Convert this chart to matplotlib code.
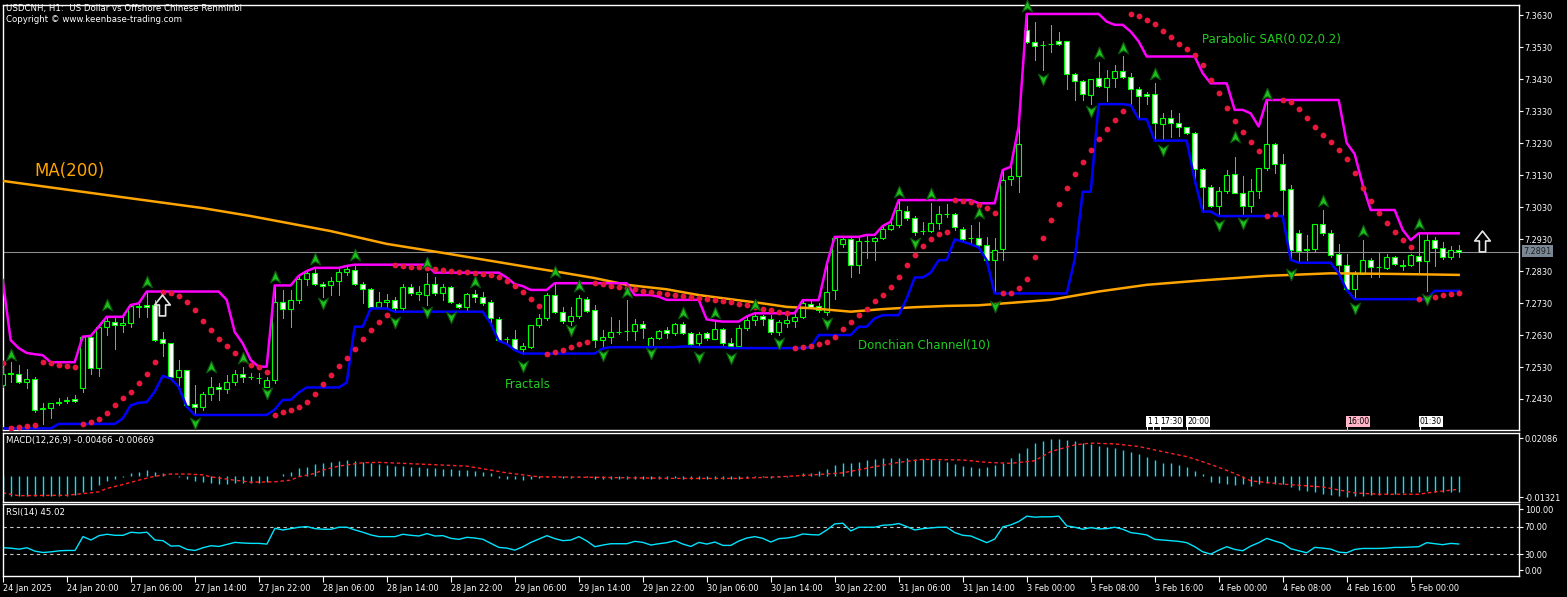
import numpy as np
import pandas as pd
import matplotlib
matplotlib.use("Agg")
import matplotlib.pyplot as plt
from matplotlib.path import Path

# ---------------- data (USDCNH H1) ----------------
opens = [7.2474, 7.2510, 7.2507, 7.2482, 7.2494, 7.2400, 7.2401, 7.2416, 7.2425, 7.2429,
         7.2463, 7.2623, 7.2526, 7.2654, 7.2670, 7.2661, 7.2669, 7.2717, 7.2724, 7.2724,
         7.2616, 7.2604, 7.2500, 7.2521, 7.2414, 7.2404, 7.2445, 7.2468, 7.2460, 7.2482,
         7.2507, 7.2500, 7.2496, 7.2468, 7.2489, 7.2734, 7.2710, 7.2740, 7.2804, 7.2825,
         7.2789, 7.2787, 7.2798, 7.2826, 7.2833, 7.2788, 7.2773, 7.2718, 7.2732, 7.2741,
         7.2715, 7.2779, 7.2757, 7.2755, 7.2791, 7.2762, 7.2781, 7.2726, 7.2718, 7.2757,
         7.2748, 7.2734, 7.2679, 7.2617, 7.2616, 7.2585, 7.2591, 7.2660, 7.2682, 7.2755,
         7.2703, 7.2674, 7.2688, 7.2742, 7.2709, 7.2613, 7.2623, 7.2641, 7.2644, 7.2644,
         7.2664, 7.2597, 7.2620, 7.2646, 7.2636, 7.2664, 7.2636, 7.2604, 7.2636, 7.2618,
         7.2648, 7.2604, 7.2597, 7.2651, 7.2677, 7.2688, 7.2679, 7.2638, 7.2669, 7.2675,
         7.2687, 7.2727, 7.2720, 7.2703, 7.2771, 7.2914, 7.2929, 7.2849, 7.2925, 7.2923,
         7.2932, 7.2963, 7.2974, 7.3019, 7.2995, 7.2955, 7.2956, 7.2981, 7.3007, 7.3007,
         7.2963, 7.2932, 7.2934, 7.2911, 7.2866, 7.2898, 7.3117, 7.3127, 7.3584, 7.3545,
         7.3536, 7.3541, 7.3548, 7.3548, 7.3446, 7.3425, 7.3381, 7.3433, 7.3407, 7.3433,
         7.3456, 7.3436, 7.3398, 7.3383, 7.3383, 7.3290, 7.3308, 7.3294, 7.3280, 7.3261,
         7.3149, 7.3092, 7.3035, 7.3079, 7.3133, 7.3075, 7.3032, 7.3079, 7.3152, 7.3227,
         7.3165, 7.3086, 7.2950, 7.2898, 7.2898, 7.2977, 7.2948, 7.2884, 7.2849, 7.2773,
         7.2821, 7.2865, 7.2842, 7.2839, 7.2873, 7.2848, 7.2849, 7.2877, 7.2860, 7.2927,
         7.2901, 7.2873, 7.2896]
highs = [7.2530, 7.2545, 7.2536, 7.2524, 7.2500, 7.2416, 7.2418, 7.2432, 7.2435, 7.2442,
         7.2625, 7.2627, 7.2656, 7.2687, 7.2682, 7.2687, 7.2724, 7.2729, 7.2766, 7.2740,
         7.2640, 7.2604, 7.2552, 7.2521, 7.2474, 7.2453, 7.2500, 7.2479, 7.2505, 7.2521,
         7.2531, 7.2512, 7.2512, 7.2500, 7.2785, 7.2771, 7.2771, 7.2815, 7.2830, 7.2840,
         7.2797, 7.2810, 7.2835, 7.2846, 7.2850, 7.2797, 7.2776, 7.2765, 7.2757, 7.2750,
         7.2789, 7.2791, 7.2783, 7.2825, 7.2810, 7.2789, 7.2783, 7.2729, 7.2760, 7.2771,
         7.2765, 7.2739, 7.2687, 7.2625, 7.2645, 7.2606, 7.2661, 7.2695, 7.2761, 7.2792,
         7.2717, 7.2719, 7.2755, 7.2750, 7.2724, 7.2646, 7.2686, 7.2677, 7.2740, 7.2679,
         7.2675, 7.2623, 7.2646, 7.2656, 7.2669, 7.2672, 7.2641, 7.2641, 7.2641, 7.2672,
         7.2651, 7.2620, 7.2662, 7.2688, 7.2698, 7.2693, 7.2693, 7.2677, 7.2688, 7.2697,
         7.2739, 7.2737, 7.2729, 7.2850, 7.2937, 7.2932, 7.2932, 7.2932, 7.2943, 7.2937,
         7.2971, 7.2984, 7.3052, 7.3033, 7.3002, 7.2984, 7.3042, 7.3033, 7.3040, 7.3012,
         7.2969, 7.2974, 7.2984, 7.2937, 7.2932, 7.3146, 7.3156, 7.3282, 7.3634, 7.3610,
         7.3548, 7.3600, 7.3579, 7.3548, 7.3449, 7.3428, 7.3430, 7.3485, 7.3459, 7.3475,
         7.3501, 7.3449, 7.3405, 7.3391, 7.3417, 7.3323, 7.3334, 7.3323, 7.3282, 7.3266,
         7.3152, 7.3099, 7.3092, 7.3146, 7.3188, 7.3126, 7.3117, 7.3152, 7.3365, 7.3231,
         7.3196, 7.3099, 7.2957, 7.2943, 7.2977, 7.3021, 7.2959, 7.2915, 7.2884, 7.2831,
         7.2927, 7.2870, 7.2886, 7.2884, 7.2877, 7.2865, 7.2884, 7.2948, 7.2946, 7.2936,
         7.2922, 7.2907, 7.2910]
lows = [7.2468, 7.2484, 7.2479, 7.2463, 7.2390, 7.2352, 7.2369, 7.2410, 7.2418, 7.2420,
        7.2453, 7.2508, 7.2502, 7.2630, 7.2585, 7.2640, 7.2656, 7.2687, 7.2687, 7.2612,
        7.2564, 7.2494, 7.2468, 7.2406, 7.2380, 7.2397, 7.2427, 7.2427, 7.2450, 7.2474,
        7.2484, 7.2491, 7.2479, 7.2466, 7.2481, 7.2682, 7.2656, 7.2729, 7.2786, 7.2786,
        7.2750, 7.2755, 7.2755, 7.2817, 7.2786, 7.2729, 7.2713, 7.2713, 7.2718, 7.2703,
        7.2703, 7.2755, 7.2739, 7.2724, 7.2755, 7.2739, 7.2729, 7.2716, 7.2703, 7.2734,
        7.2724, 7.2666, 7.2612, 7.2602, 7.2583, 7.2572, 7.2588, 7.2656, 7.2677, 7.2698,
        7.2667, 7.2662, 7.2682, 7.2703, 7.2592, 7.2592, 7.2604, 7.2633, 7.2615, 7.2615,
        7.2620, 7.2594, 7.2617, 7.2620, 7.2630, 7.2633, 7.2596, 7.2592, 7.2615, 7.2617,
        7.2599, 7.2589, 7.2592, 7.2646, 7.2662, 7.2662, 7.2633, 7.2630, 7.2656, 7.2656,
        7.2682, 7.2716, 7.2703, 7.2692, 7.2744, 7.2906, 7.2810, 7.2825, 7.2870, 7.2864,
        7.2929, 7.2958, 7.2969, 7.2990, 7.2943, 7.2946, 7.2953, 7.2963, 7.3000, 7.2958,
        7.2922, 7.2914, 7.2904, 7.2864, 7.2760, 7.2866, 7.3099, 7.3078, 7.3542, 7.3490,
        7.3459, 7.3516, 7.3537, 7.3398, 7.3365, 7.3365, 7.3352, 7.3405, 7.3363, 7.3405,
        7.3433, 7.3349, 7.3305, 7.3353, 7.3238, 7.3240, 7.3250, 7.3252, 7.3259, 7.3115,
        7.3016, 7.3030, 7.3002, 7.3073, 7.3073, 7.3002, 7.3016, 7.3058, 7.3146, 7.3136,
        7.3006, 7.2865, 7.2856, 7.2865, 7.2891, 7.2943, 7.2875, 7.2823, 7.2771, 7.2742,
        7.2821, 7.2811, 7.2813, 7.2836, 7.2849, 7.2834, 7.2846, 7.2828, 7.2768, 7.2846,
        7.2867, 7.2869, 7.2875]
closes = [7.2508, 7.2509, 7.2482, 7.2494, 7.2397, 7.2402, 7.2416, 7.2420, 7.2426, 7.2424,
          7.2623, 7.2526, 7.2654, 7.2674, 7.2661, 7.2669, 7.2721, 7.2721, 7.2717, 7.2614,
          7.2604, 7.2500, 7.2521, 7.2411, 7.2404, 7.2445, 7.2468, 7.2461, 7.2482, 7.2507,
          7.2498, 7.2500, 7.2496, 7.2489, 7.2734, 7.2710, 7.2740, 7.2804, 7.2825, 7.2791,
          7.2783, 7.2798, 7.2827, 7.2835, 7.2788, 7.2773, 7.2718, 7.2732, 7.2741, 7.2715,
          7.2779, 7.2762, 7.2763, 7.2791, 7.2762, 7.2781, 7.2732, 7.2718, 7.2757, 7.2748,
          7.2731, 7.2682, 7.2614, 7.2616, 7.2586, 7.2595, 7.2660, 7.2682, 7.2755, 7.2703,
          7.2674, 7.2688, 7.2745, 7.2706, 7.2613, 7.2623, 7.2639, 7.2641, 7.2644, 7.2664,
          7.2651, 7.2620, 7.2644, 7.2636, 7.2665, 7.2636, 7.2602, 7.2633, 7.2620, 7.2648,
          7.2604, 7.2597, 7.2651, 7.2677, 7.2690, 7.2679, 7.2638, 7.2672, 7.2677, 7.2685,
          7.2729, 7.2718, 7.2708, 7.2765, 7.2932, 7.2929, 7.2849, 7.2925, 7.2925, 7.2932,
          7.2963, 7.2974, 7.3021, 7.2995, 7.2953, 7.2955, 7.2981, 7.3007, 7.3007, 7.2967,
          7.2929, 7.2932, 7.2911, 7.2866, 7.2896, 7.3115, 7.3127, 7.3227, 7.3545, 7.3534,
          7.3538, 7.3540, 7.3539, 7.3446, 7.3425, 7.3383, 7.3430, 7.3409, 7.3433, 7.3456,
          7.3438, 7.3398, 7.3378, 7.3378, 7.3294, 7.3308, 7.3292, 7.3280, 7.3263, 7.3148,
          7.3094, 7.3035, 7.3079, 7.3131, 7.3075, 7.3032, 7.3079, 7.3152, 7.3227, 7.3165,
          7.3084, 7.2896, 7.2894, 7.2897, 7.2977, 7.2948, 7.2880, 7.2849, 7.2773, 7.2821,
          7.2865, 7.2842, 7.2842, 7.2873, 7.2852, 7.2847, 7.2880, 7.2860, 7.2927, 7.2901,
          7.2873, 7.2896, 7.2891]

# highs / lows of the 9 bars just before the visible window (Donchian look-back)
pre_highs = [7.2802, 7.2614, 7.2589, 7.2574, 7.2570, 7.2567, 7.2530, 7.2520, 7.2510]
pre_lows = [7.2400, 7.2420, 7.2390, 7.2380, 7.2360, 7.2345, 7.2338, 7.2380, 7.2420]

# SAR state on the first bar (down trend)
sar_start = 7.2541
sar_ep_start = 7.2338

# MA(200)
ma_bars = [0, 12, 25, 31, 41, 48, 55, 61, 67, 70, 74, 78, 83, 87, 91, 95, 98, 101, 106,
           110, 114, 118, 122, 131, 137, 143, 150, 158, 166, 174, 182]
ma_vals = [7.3112, 7.3071, 7.3027, 7.3002, 7.2955, 7.2915, 7.2887, 7.2862, 7.2837, 7.2825,
           7.2808, 7.2787, 7.2773, 7.2755, 7.2742, 7.2729, 7.2718, 7.2714, 7.2703,
           7.2711, 7.2717, 7.2721, 7.2723, 7.2740, 7.2766, 7.2787, 7.2801, 7.2815, 7.2823,
           7.2821, 7.2818]

# Fractals
frac_up_bars = [1, 13, 18, 26, 30, 34, 39, 44, 53, 59, 69, 72, 78, 85, 89, 94, 112, 116,
                122, 128, 137, 140, 144, 154, 158, 165, 170, 177]
frac_up_vals = [7.2568, 7.2724, 7.2797, 7.2529, 7.2557, 7.2813, 7.2868, 7.2880, 7.2855,
                7.2797, 7.2828, 7.2783, 7.2766, 7.2700, 7.2700, 7.2724, 7.3078, 7.3071,
                7.3011, 7.3660, 7.3513, 7.3527, 7.3447, 7.3250, 7.3384, 7.3050, 7.2955, 7.2977]
frac_dn_bars = [24, 33, 40, 49, 53, 56, 65, 71, 75, 81, 87, 91, 97, 103, 114, 124, 130,
                136, 145, 152, 155, 161, 169, 178]
frac_dn_vals = [7.2354, 7.2448, 7.2729, 7.2672, 7.2703, 7.2686, 7.2533, 7.2646, 7.2568,
                7.2573, 7.2562, 7.2557, 7.2604, 7.2669, 7.2919, 7.2721, 7.3430, 7.3329,
                7.3209, 7.2974, 7.2981, 7.2821, 7.2714, 7.2742]

# MACD(12,26,9)
macd_main = [-0.0104, -0.0104, -0.0104, -0.0104, -0.0104, -0.0104, -0.0104, -0.0104, -0.0101, -0.0097,
             -0.0082, -0.0070, -0.0048, -0.0028, -0.0018, -0.0006, 0.0011, 0.0019, 0.0028, 0.0019,
             0.0011, -0.0001, -0.0006, -0.0019, -0.0028, -0.0033, -0.0036, -0.0040, -0.0040, -0.0036,
             -0.0035, -0.0035, -0.0035, -0.0033, -0.0003, 0.0008, 0.0019, 0.0036, 0.0045, 0.0058,
             0.0065, 0.0069, 0.0074, 0.0077, 0.0074, 0.0067, 0.0065, 0.0058, 0.0053, 0.0048,
             0.0048, 0.0045, 0.0042, 0.0038, 0.0036, 0.0035, 0.0033, 0.0030, 0.0026, 0.0023,
             0.0019, 0.0014, -0.0011, -0.0016, -0.0019, -0.0023, -0.0016, -0.0011, -0.0008, -0.0009,
             -0.0011, -0.0011, -0.0008, -0.0009, -0.0016, -0.0018, -0.0018, -0.0018, -0.0016, -0.0016,
             -0.0016, -0.0018, -0.0018, -0.0016, -0.0014, -0.0016, -0.0019, -0.0018, -0.0018, -0.0016,
             -0.0018, -0.0019, -0.0016, -0.0013, -0.0009, -0.0009, -0.0011, -0.0009, -0.0008, -0.0004,
             0.0011, 0.0014, 0.0021, 0.0031, 0.0055, 0.0062, 0.0065, 0.0070, 0.0079, 0.0086,
             0.0089, 0.0089, 0.0089, 0.0089, 0.0086, 0.0086, 0.0082, 0.0079, 0.0070, 0.0058,
             0.0048, 0.0042, 0.0038, 0.0042, 0.0053, 0.0065, 0.0087, 0.0116, 0.0140, 0.0164,
             0.0177, 0.0186, 0.0186, 0.0180, 0.0174, 0.0164, 0.0157, 0.0150, 0.0143, 0.0138,
             0.0130, 0.0121, 0.0109, 0.0096, 0.0079, 0.0065, 0.0062, 0.0053, 0.0042, 0.0021,
             0.0008, -0.0031, -0.0036, -0.0040, -0.0048, -0.0040, -0.0050, -0.0043, -0.0036, -0.0040,
             -0.0043, -0.0057, -0.0074, -0.0079, -0.0082, -0.0091, -0.0099, -0.0104, -0.0108, -0.0103,
             -0.0101, -0.0099, -0.0098, -0.0094, -0.0091, -0.0087, -0.0085, -0.0084, -0.0080, -0.0082,
             -0.0082, -0.0082, -0.0082]
sig_bars = [0, 2, 8, 10, 12, 13, 15, 17, 19, 21, 23, 25, 26, 29, 31, 34, 36, 37, 39, 40, 42, 45,
            47, 50, 58, 61, 63, 67, 75, 84, 92, 97, 101, 105, 109, 112, 115, 120, 123, 126, 129,
            131, 134, 136, 139, 142, 145, 148, 150, 152, 154, 156, 160, 165, 169, 172, 177, 179, 182]
sig_vals = [-0.0087, -0.0101, -0.0099, -0.0091, -0.0082, -0.0065, -0.0045, -0.0023, -0.0003,
            0.0008, 0.0008, 0.0004, -0.0006, -0.0023, -0.0033, -0.0031, -0.0023, -0.0006, 0.0011,
            0.0028, 0.0048, 0.0065, 0.0067, 0.0062, 0.0048, 0.0028, 0.0014, -0.0006, -0.0009,
            -0.0014, -0.0014, -0.0006, 0.0003, 0.0014, 0.0045, 0.0067, 0.0082, 0.0079, 0.0067,
            0.0062, 0.0075, 0.0121, 0.0155, 0.0164, 0.0160, 0.0147, 0.0121, 0.0096, 0.0070,
            0.0042, 0.0011, -0.0026, -0.0043, -0.0057, -0.0087, -0.0094, -0.0094, -0.0082, -0.0069]

# RSI(14)
rsi = [39.6, 39.0, 37.6, 39.6, 34.7, 32.8, 33.7, 35.2, 35.7, 35.7,
       55.6, 50.7, 57.0, 59.0, 57.5, 57.5, 61.9, 60.9, 61.9, 50.7,
       49.8, 42.0, 42.5, 37.2, 35.7, 39.6, 42.5, 41.5, 44.4, 47.3,
       46.4, 45.9, 45.9, 44.9, 67.6, 65.2, 67.1, 69.1, 70.0, 67.1,
       66.2, 66.2, 69.1, 69.1, 65.2, 61.9, 58.0, 55.6, 55.6, 55.6,
       59.0, 57.5, 56.5, 59.9, 56.5, 57.0, 53.1, 51.7, 54.6, 53.6,
       51.7, 45.9, 40.1, 39.1, 36.2, 41.1, 47.3, 52.2, 57.0, 52.7,
       49.8, 50.7, 55.6, 49.3, 41.1, 43.5, 45.4, 45.4, 45.4, 48.8,
       47.3, 43.5, 45.4, 46.9, 49.8, 44.9, 41.5, 47.3, 44.9, 47.8,
       43.0, 43.0, 49.3, 53.6, 55.6, 53.1, 47.8, 52.7, 53.6, 55.6,
       59.4, 58.5, 58.0, 65.2, 73.9, 74.9, 63.8, 69.1, 69.1, 69.1,
       72.0, 72.5, 74.4, 70.0, 65.2, 67.1, 68.1, 69.1, 69.1, 61.4,
       57.5, 56.5, 51.7, 46.9, 52.2, 69.6, 72.5, 77.3, 85.0, 83.6,
       84.1, 84.1, 85.0, 71.0, 69.1, 66.2, 68.6, 66.7, 67.1, 69.1,
       66.2, 61.4, 59.9, 58.0, 51.7, 50.7, 49.8, 48.8, 46.9, 41.1,
       33.8, 30.4, 36.2, 41.1, 37.2, 35.3, 42.0, 46.9, 53.1, 49.3,
       45.9, 38.2, 35.3, 32.4, 40.1, 39.1, 37.7, 33.3, 32.4, 37.2,
       38.6, 38.6, 38.6, 39.1, 40.1, 40.1, 40.6, 41.1, 46.9, 45.4,
       44.0, 45.9, 45.0]

time_ticks = [0, 8, 16, 24, 32, 40, 48, 56, 64, 72, 80, 88, 96, 104, 112, 120, 128, 136,
              144, 152, 160, 168, 176]
time_labels = ["24 Jan 2025", "24 Jan 20:00", "27 Jan 06:00", "27 Jan 14:00", "27 Jan 22:00",
               "28 Jan 06:00", "28 Jan 14:00", "28 Jan 22:00", "29 Jan 06:00", "29 Jan 14:00",
               "29 Jan 22:00", "30 Jan 06:00", "30 Jan 14:00", "30 Jan 22:00", "31 Jan 06:00",
               "31 Jan 14:00", "3 Feb 00:00", "3 Feb 08:00", "3 Feb 16:00", "4 Feb 00:00",
               "4 Feb 08:00", "4 Feb 16:00", "5 Feb 00:00"]
price_ticks = [7.2430, 7.2530, 7.2630, 7.2730, 7.2830, 7.2930, 7.3030, 7.3130, 7.3230,
               7.3330, 7.3430, 7.3530, 7.3630]
last_price = 7.2891

# ---------------- figure ----------------
W, H = 1567, 597
fig = plt.figure(figsize=(W / 100, H / 100), dpi=100)
fig.patch.set_facecolor("black")


def rect(x0, y0, x1, y1):
    return [x0 / W, 1 - y1 / H, (x1 - x0) / W, (y1 - y0) / H]


def ftext(px, py, s, **kw):
    return fig.text(px / W, 1 - py / H, s, **kw)


ax = fig.add_axes(rect(3, 5, 1519, 430))
axm = fig.add_axes(rect(3, 433, 1519, 502))
axr = fig.add_axes(rect(3, 504, 1519, 576))

XL = (0.04, 189.54)
FS = 5.9
for a in (ax, axm, axr):
    a.set_facecolor("black")
    for s in a.spines.values():
        s.set_color("white")
        s.set_linewidth(1.0)
    a.yaxis.tick_right()
    a.tick_params(axis="y", colors="white", labelcolor="white", labelsize=FS,
                  length=3, width=0.8, pad=1, direction="out")
    a.tick_params(axis="x", bottom=False, labelbottom=False)
    a.set_xlim(*XL)

GREEN = "#00ff00"
CYAN = "#00e4ff"
PX1 = 0.72  # one pixel in points
x = np.arange(len(closes))
o = np.array(opens)
h = np.array(highs)
l = np.array(lows)
c = np.array(closes)

# main panel
ax.set_ylim(7.2333, 7.3662)
ax.set_yticks(price_ticks)
ax.set_yticklabels([f"{v:.4f}" for v in price_ticks])
ax.axhline(last_price, color="#8c8c8c", lw=0.8, zorder=1)

ax.vlines(x, l, h, colors=GREEN, lw=PX1, zorder=3, antialiased=False)
bull = c > o
bear = ~bull
ax.bar(x[bull], (c - o)[bull], bottom=o[bull], width=0.6, color="black",
       edgecolor=GREEN, linewidth=0.8, zorder=4)
ax.bar(x[bear], (o - c)[bear], bottom=c[bear], width=0.6, color="white",
       edgecolor=GREEN, linewidth=0.8, zorder=4)

# MA(200)
ax.plot(ma_bars, ma_vals, color="#ffa500", lw=1.8, zorder=5)

# Donchian channel(10)
hh = pd.Series(pre_highs + highs).rolling(10).max().to_numpy()[len(pre_highs):]
ll = pd.Series(pre_lows + lows).rolling(10).min().to_numpy()[len(pre_lows):]
ax.plot(x, hh, color="#ff00ff", lw=1.8, zorder=5)
ax.plot(x, ll, color="#0000ff", lw=1.8, zorder=5)


# Parabolic SAR(0.02, 0.2)
def psar(hi, lo, s0, ep0, step=0.02, amax=0.2):
    n = len(hi)
    out = np.zeros(n)
    trend, s, ep, af = -1, s0, ep0, step
    out[0] = s
    for i in range(1, n):
        s = s + af * (ep - s)
        if trend == 1:
            s = min(s, lo[i - 1], lo[i - 2] if i >= 2 else lo[i - 1])
            if lo[i] < s:
                trend, s, ep, af = -1, ep, lo[i], step
            elif hi[i] > ep:
                ep, af = hi[i], min(af + step, amax)
        else:
            s = max(s, hi[i - 1], hi[i - 2] if i >= 2 else hi[i - 1])
            if hi[i] > s:
                trend, s, ep, af = 1, ep, hi[i], step
            elif lo[i] < ep:
                ep, af = lo[i], min(af + step, amax)
        out[i] = s
    return out


sar = psar(h, l, sar_start, sar_ep_start)
ax.plot(x, sar, "o", color="#e8173c", ms=4.2, mec="none", zorder=6)

# Fractals
up_marker = Path([(0, 1), (0.8, -0.85), (0, -0.35), (-0.8, -0.85), (0, 1)],
                 [Path.MOVETO, Path.LINETO, Path.LINETO, Path.LINETO, Path.CLOSEPOLY])
dn_marker = Path([(0, -1), (0.8, 0.85), (0, 0.35), (-0.8, 0.85), (0, -1)],
                 [Path.MOVETO, Path.LINETO, Path.LINETO, Path.LINETO, Path.CLOSEPOLY])
ax.plot(frac_up_bars, frac_up_vals, linestyle="none", marker=up_marker, ms=9,
        mfc="#1fbf1f", mec="#0a5a0a", mew=0.8, zorder=7, clip_on=False)
ax.plot(frac_dn_bars, frac_dn_vals, linestyle="none", marker=dn_marker, ms=9,
        mfc="#1fbf1f", mec="#0a5a0a", mew=0.8, zorder=7)

# buy arrows (outlined)
arrow = Path([(-0.3, -1), (0.3, -1), (0.3, 0.05), (0.75, 0.05), (0, 1), (-0.75, 0.05),
              (-0.3, 0.05), (-0.3, -1)],
             [Path.MOVETO] + [Path.LINETO] * 6 + [Path.CLOSEPOLY])
for px, py in [(162, 305), (1482, 241)]:
    fig.lines.append(plt.Line2D([px / W], [1 - py / H], transform=fig.transFigure,
                                marker=arrow, ms=15, mfc="black", mec="#e8e8e8", mew=1.2,
                                linestyle="none"))

# MACD panel
axm.set_ylim(-0.0133, 0.0215)
axm.vlines(x, 0, macd_main, colors=CYAN, lw=1.0)
axm.plot(sig_bars, sig_vals, color="#ff2020", lw=1.0, ls=(0, (2.5, 2)))
axm.set_yticks([0.01891, -0.01078])
axm.set_yticklabels(["0.02086", "-0.01321"])

# RSI panel
axr.set_ylim(-1.0, 102.5)
axr.axhline(70, color="#c8c8c8", lw=0.8, ls=(0, (3, 3)))
axr.axhline(30, color="#c8c8c8", lw=0.8, ls=(0, (3, 3)))
axr.plot(x, rsi, color=CYAN, lw=1.0)
axr.set_yticks([95.2, 70, 30, 7.2])
axr.set_yticklabels(["100.00", "70.00", "30.00", "0.00"])

axr.set_xticks(time_ticks)
axr.set_xticklabels(time_labels)
axr.tick_params(axis="x", bottom=True, labelbottom=True, colors="white", labelcolor="white",
                labelsize=FS, length=4, width=0.8, pad=2, direction="out")
for t in axr.get_xticklabels():
    t.set_ha("left")

# ---------------- texts ----------------
ftext(6, 9, "USDCNH, H1:  US Dollar vs Offshore Chinese Renminbi", color="white",
      fontsize=6.2, va="center", ha="left")
ftext(6, 20, "Copyright © www.keenbase-trading.com", color="white", fontsize=6.2,
      va="center", ha="left")
ftext(34, 171, "MA(200)", color="#ffa500", fontsize=12, va="center", ha="left")
LG = "#22cc22"
ftext(1202, 40, "Parabolic SAR(0.02,0.2)", color=LG, fontsize=8.5, va="center", ha="left")
ftext(505, 384, "Fractals", color=LG, fontsize=8.5, va="center", ha="left")
ftext(858, 345, "Donchian Channel(10)", color=LG, fontsize=8.5, va="center", ha="left")
ftext(6, 441, "MACD(12,26,9) -0.00466 -0.00669", color="white", fontsize=6.2,
      va="center", ha="left")
ftext(6, 513, "RSI(14) 45.02", color="white", fontsize=6.2, va="center", ha="left")

ftext(1523, 251, f"{last_price:.4f}", color="#202020", fontsize=FS, va="center", ha="left",
      bbox=dict(boxstyle="square,pad=0.18", fc="#7a8896", ec="none"))

# event flags at bottom of the main panel
flags = [(1147, "1", "white"), (1153, "1", "white"), (1160, "17:30", "white"),
         (1187, "20:00", "white"), (1347, "16:00", "#ffb6c8"), (1420, "01:30", "white")]
for px, s, col in flags:
    ftext(px, 421.5, s, color="black", fontsize=5.6, va="center", ha="left",
          bbox=dict(boxstyle="square,pad=0.12", fc=col, ec="none"))
    fig.lines.append(plt.Line2D([px / W, px / W], [1 - 426 / H, 1 - 430 / H],
                                transform=fig.transFigure, color=col, lw=0.8))

fig.savefig("out.png", dpi=100, facecolor="black")
